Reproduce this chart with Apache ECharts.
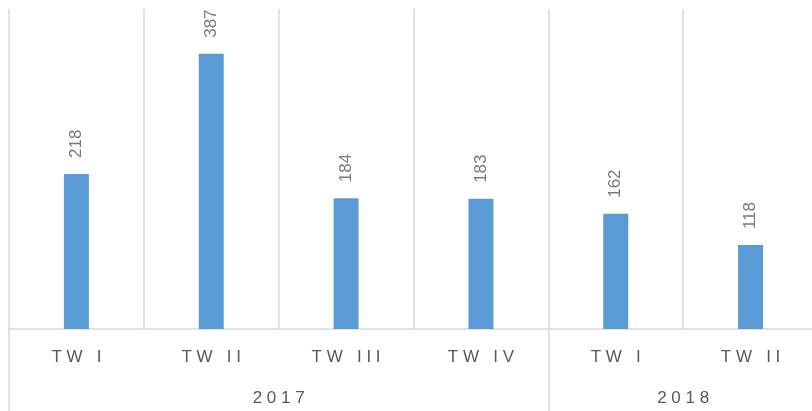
<!DOCTYPE html>
<html>
<head>
<meta charset="utf-8">
<script src="https://cdn.jsdelivr.net/npm/echarts@6/dist/echarts.min.js"></script>
<style>
  html, body { margin: 0; padding: 0; background: #fff; }
  #chart { width: 812px; height: 411px; }
</style>
</head>
<body>
<div id="chart"></div>
<script>
// quarter labels, the year each one belongs to, and the bar values
const quarters = ['TW I', 'TW II', 'TW III', 'TW IV', 'TW I', 'TW II'];
const years = ['2017', '2017', '2017', '2017', '2018', '2018'];
const values = [218, 387, 184, 183, 162, 118];

// group consecutive quarters by year -> separator positions and label centres
const yearGroups = [];
years.forEach((y, i) => {
  const last = yearGroups[yearGroups.length - 1];
  if (last && last.name === y) last.count++;
  else yearGroups.push({ name: y, start: i, count: 1 });
});
const yearSeps = yearGroups.map(g => g.start);
const yearCentres = yearGroups.map(g => g.start + g.count / 2);
const yearAt = {};
yearGroups.forEach(g => { yearAt[g.start + g.count / 2] = g.name; });

const spaced = s => s.split('').join(' ');
const lineColor = '#d9d9d9';
const gridBox = { left: 9, top: 9, bottom: 82, width: 809, outerBoundsMode: 'none' };

const chart = echarts.init(document.getElementById('chart'));
chart.setOption({
  animation: false,
  grid: [gridBox, Object.assign({}, gridBox)],
  xAxis: [{
    type: 'category',
    gridIndex: 0,
    data: quarters,
    axisLine: { show: true, lineStyle: { color: lineColor, width: 1.5 } },
    axisTick: { show: false },
    splitLine: { show: true, interval: 0, lineStyle: { color: lineColor, width: 1.5 } },
    axisLabel: {
      interval: 0, margin: 20,
      formatter: v => spaced(v),
      fontFamily: 'Liberation Sans', fontSize: 17, color: '#595959'
    }
  }, {
    type: 'value',
    gridIndex: 1,
    min: 0, max: quarters.length,
    position: 'bottom',
    axisLine: { show: false },
    splitLine: { show: false },
    axisTick: {
      show: true, inside: false, length: 82, customValues: yearSeps,
      lineStyle: { color: lineColor, width: 1.5 }
    },
    axisLabel: {
      margin: 61, customValues: yearCentres,
      formatter: v => spaced(yearAt[v] || ''),
      fontFamily: 'Liberation Sans', fontSize: 17, color: '#595959'
    }
  }],
  yAxis: [
    { type: 'value', gridIndex: 0, min: 0, max: 450, show: false },
    { type: 'value', gridIndex: 1, min: 0, max: 1, show: false }
  ],
  series: [{
    type: 'bar',
    xAxisIndex: 0, yAxisIndex: 0,
    data: values,
    barWidth: 25,
    itemStyle: { color: '#5b9bd5' },
    label: {
      show: true, position: 'top', distance: 16,
      rotate: 90, align: 'left', verticalAlign: 'middle',
      fontFamily: 'Liberation Sans', fontSize: 17, color: '#7a7a7a'
    }
  }]
});
</script>
</body>
</html>
